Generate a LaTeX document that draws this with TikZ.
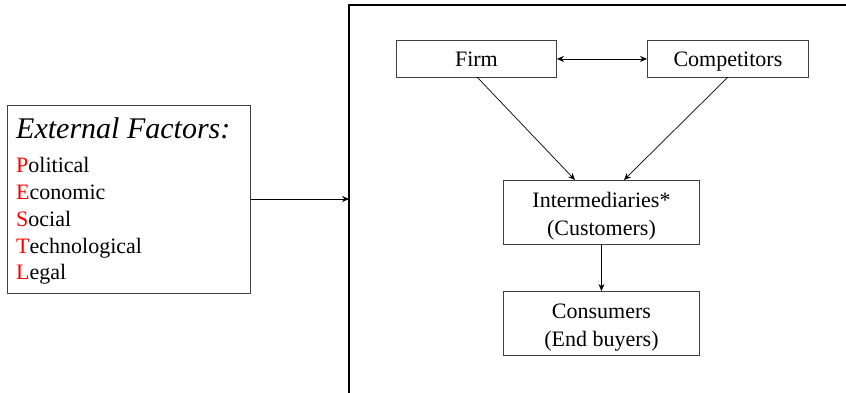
\documentclass[tikz,border=0pt]{standalone}
\usepackage{fontspec}
\setmainfont{Liberation Serif}
\usetikzlibrary{arrows.meta,calc}
\begin{document}
\begin{tikzpicture}[x=1pt,y=-1pt,
  box/.style={draw=black!75, line width=0.9pt, rectangle, inner sep=0pt, anchor=north west},
  lbl/.style={font=\fontsize{22}{26}\selectfont, anchor=base, inner sep=0pt},
  ltxt/.style={font=\fontsize{22}{26}\selectfont, anchor=base west, inner sep=0pt},
  conn/.style={line width=0.7pt, -{Stealth[length=7pt,width=6pt]}},
  frame/.style={line width=1.1pt, black}]
\useasboundingbox (0,0) rectangle (846,393);
% frame (rectangle cut by page)
\coordinate (ftop) at (349,5);
\coordinate (fbot) at (349,393);
\coordinate (fright) at (846,5);
\draw[frame] (fbot) -- (ftop) -- (fright);
% external factors
\node[box, minimum width=243, minimum height=188] (ext) at (7,105) {};
\node[anchor=base west, inner sep=0pt, font=\fontsize{30}{32}\selectfont\itshape] (title) at (16,139) {External Factors:};
\node[ltxt] (p1) at (16,172) {\textcolor{red}{P}olitical};
\node[ltxt] (p2) at (16,199) {\textcolor{red}{E}conomic};
\node[ltxt] (p3) at (16,226) {\textcolor{red}{S}ocial};
\node[ltxt] (p4) at (16,253) {\textcolor{red}{T}echnological};
\node[ltxt] (p5) at (16,279) {\textcolor{red}{L}egal};
\coordinate (fin) at (349,199);
\draw[conn] (ext.east |- fin) -- (fin);
% firm & competitors
\node[box, minimum width=160, minimum height=37] (firm) at (396,40) {};
\node[lbl] (firmt) at ($(firm.center)+(0,8)$) {Firm};
\node[box, minimum width=161, minimum height=37] (comp) at (647,40) {};
\node[lbl] (compt) at ($(comp.center)+(0,8)$) {Competitors};
\draw[line width=0.7pt, {Stealth[length=7pt,width=6pt]}-{Stealth[length=7pt,width=6pt]}] (firm.east) -- (comp.west);
% intermediaries & consumers
\node[box, minimum width=196, minimum height=64] (inter) at (503,180) {};
\node[lbl] (intt1) at ($(inter.center)+(0,-5)$) {Intermediaries*};
\node[lbl] (intt2) at ($(inter.center)+(0,23)$) {(Customers)};
\node[box, minimum width=196, minimum height=64] (cons) at (503,291) {};
\node[lbl] (cont1) at ($(cons.center)+(0,-5)$) {Consumers};
\node[lbl] (cont2) at ($(cons.center)+(0,23)$) {(End buyers)};
\coordinate (fs) at (477,77);
\coordinate (ft) at (575,180);
\coordinate (cs) at (728,77);
\coordinate (ct) at (624,180);
\draw[conn] (fs) -- (ft);
\draw[conn] (cs) -- (ct);
\draw[conn] (inter.south) -- (cons.north);
\end{tikzpicture}
\end{document}
